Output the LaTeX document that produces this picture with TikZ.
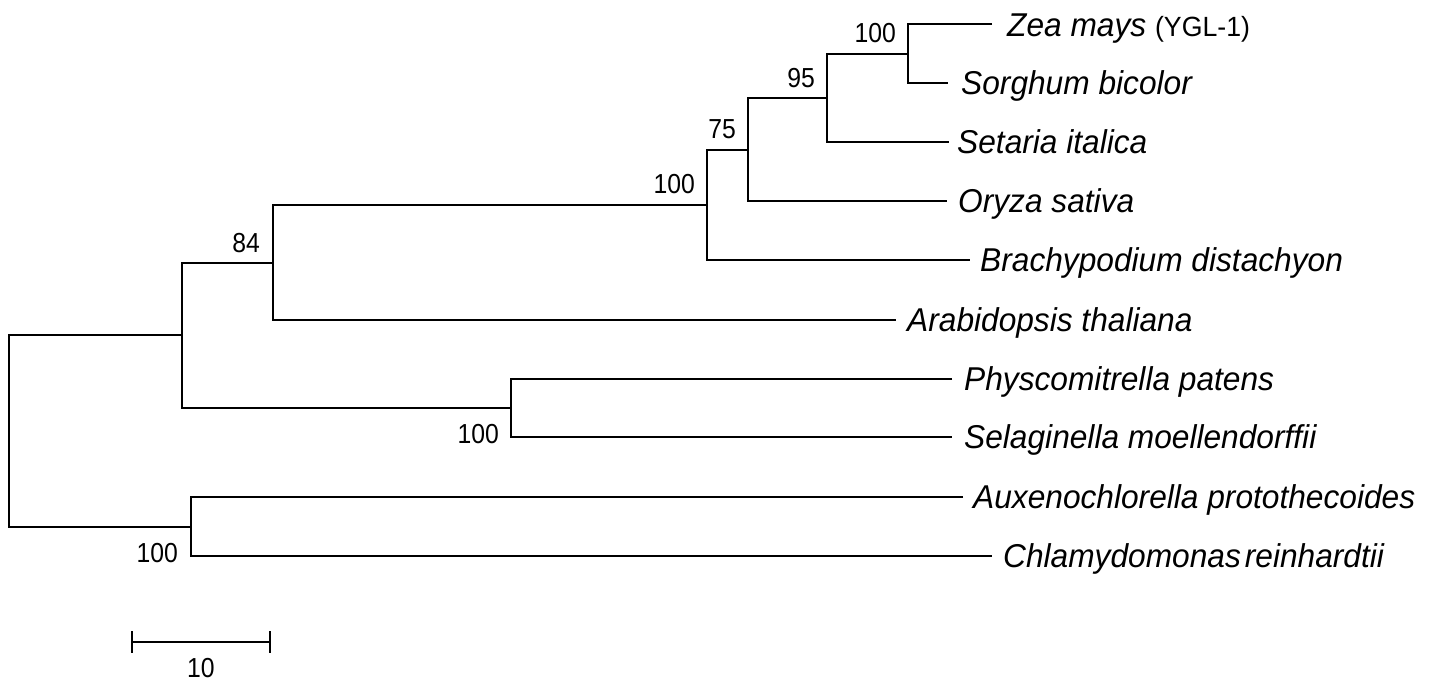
\documentclass[tikz,border=0pt]{standalone}
\usepackage{fontspec}
\setmainfont{Liberation Sans}
\newfontfamily\lblfont[FakeStretch=0.96]{Liberation Sans}
\newfontfamily\numfnt[FakeStretch=0.9]{Liberation Sans}
\begin{document}
\begin{tikzpicture}[x=1pt,y=-1pt,
  branch/.style={draw, line width=2.4pt},
  taxon/.style={anchor=base west, inner sep=0pt, font=\lblfont\itshape\fontsize{33}{36}\selectfont},
  boot/.style={anchor=base east, inner sep=0pt, font=\numfnt\fontsize{27.5}{30}\selectfont},
  scalelbl/.style={anchor=base, inner sep=0pt, font=\numfnt\fontsize{27.5}{30}\selectfont}]
\useasboundingbox (0,0) rectangle (1432,680);
% internal nodes
\coordinate (root) at (9,431);
\coordinate (n7) at (182,335);
\coordinate (n8) at (191,527);
\coordinate (n5) at (273,263);
\coordinate (n6) at (511,408);
\coordinate (n4) at (707,205);
\coordinate (n3) at (748,150);
\coordinate (n2) at (827,98);
\coordinate (n1) at (908,54);
% leaf tips
\coordinate (tzea) at (992,24);
\coordinate (tsor) at (948,83);
\coordinate (tset) at (949,142);
\coordinate (tory) at (947,201);
\coordinate (tbra) at (970,260);
\coordinate (tara) at (896,320);
\coordinate (tphy) at (952,379);
\coordinate (tsel) at (952,437);
\coordinate (taux) at (963,497);
\coordinate (tchl) at (992,556);
% taxon labels
\node[taxon] (zea) at ([xshift=15pt,yshift=-12pt]tzea) {Zea mays {\upshape\fontsize{27.8}{30}\selectfont (YGL-1)}};
\node[taxon] (sor) at ([xshift=13pt,yshift=-11pt]tsor) {Sorghum bicolor};
\node[taxon] (set) at ([xshift=8pt,yshift=-11pt]tset) {Setaria italica};
\node[taxon] (ory) at ([xshift=11pt,yshift=-11pt]tory) {Oryza sativa};
\node[taxon] (bra) at ([xshift=10pt,yshift=-11pt]tbra) {Brachypodium distachyon};
\node[taxon] (ara) at ([xshift=11pt,yshift=-11pt]tara) {Arabidopsis thaliana};
\node[taxon] (phy) at ([xshift=12pt,yshift=-11pt]tphy) {Physcomitrella patens};
\node[taxon] (sel) at ([xshift=12pt,yshift=-11pt]tsel) {Selaginella moellendorffii};
\node[taxon] (aux) at ([xshift=10pt,yshift=-11pt]taux) {Auxenochlorella protothecoides};
\node[taxon] (chl) at ([xshift=11pt,yshift=-11pt]tchl) {Chlamydomonas\hspace{4pt}reinhardtii};
% branches (each bracket drawn as one path)
\draw[branch] (n7) -| (root) |- (n8);
\draw[branch] (n5) -| (n7) |- (n6);
\draw[branch] (n4) -| (n5) |- (tara);
\draw[branch] (n3) -| (n4) |- (tbra);
\draw[branch] (n2) -| (n3) |- (tory);
\draw[branch] (n1) -| (n2) |- (tset);
\draw[branch] (tzea) -| (n1) |- (tsor);
\draw[branch] (tphy) -| (n6) |- (tsel);
\draw[branch] (taux) -| (n8) |- (tchl);
% bootstrap values
\node[boot] (b1) at (896,42.5) {100};
\node[boot] (b2) at (815,87) {95};
\node[boot] (b3) at (736,138) {75};
\node[boot] (b4) at (695,193) {100};
\node[boot] (b5) at (260,252) {84};
\node[boot] (b6) at (499,443) {100};
\node[boot] (b7) at (178,562) {100};
% scale bar
\coordinate (sbl) at (132,642);
\coordinate (sbr) at (270,642);
\draw[branch] (sbl) -- (sbr);
\draw[branch] ([yshift=11pt]sbl) -- ([yshift=-11pt]sbl);
\draw[branch] ([yshift=11pt]sbr) -- ([yshift=-11pt]sbr);
\node[scalelbl] (sblbl) at (201,677) {10};
\end{tikzpicture}
\end{document}
